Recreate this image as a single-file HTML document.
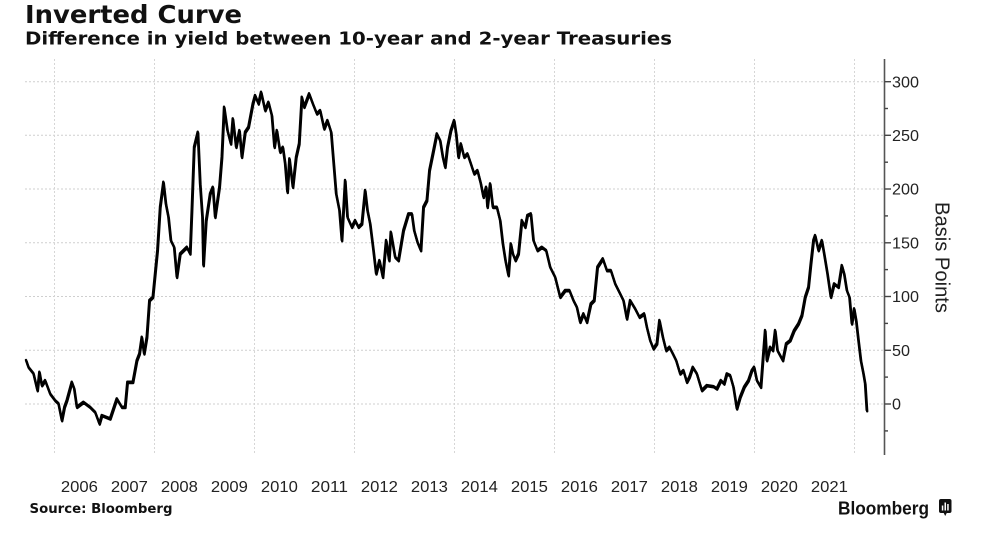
<!DOCTYPE html>
<html>
<head>
<meta charset="utf-8">
<style>
  html,body{margin:0;padding:0;background:#fff;}
  svg{display:block;}
  .t{font-family:"DejaVu Sans","Liberation Sans",sans-serif;font-weight:bold;fill:#111;}
  .ax{font-family:"Liberation Sans",sans-serif;fill:#222;font-size:16px;}
</style>
</head>
<body>
<svg width="989" height="545" viewBox="0 0 989 545" xmlns="http://www.w3.org/2000/svg">
  <rect width="989" height="545" fill="#fff"/>
  <!-- Titles -->
  <text class="t" x="25" y="23" font-size="25" textLength="217" lengthAdjust="spacingAndGlyphs">Inverted Curve</text>
  <text class="t" x="25" y="44.5" font-size="18" textLength="647" lengthAdjust="spacingAndGlyphs">Difference in yield between 10-year and 2-year Treasuries</text>

  <!-- Horizontal gridlines -->
  <g stroke="#cfcfcf" stroke-width="1" stroke-dasharray="2,2">
    <line x1="25" y1="81.7" x2="884" y2="81.7"/>
    <line x1="25" y1="135.3" x2="884" y2="135.3"/>
    <line x1="25" y1="189" x2="884" y2="189"/>
    <line x1="25" y1="242.8" x2="884" y2="242.8"/>
    <line x1="25" y1="296.5" x2="884" y2="296.5"/>
    <line x1="25" y1="350.3" x2="884" y2="350.3"/>
    <line x1="25" y1="404" x2="884" y2="404"/>
  </g>
  <!-- Vertical gridlines -->
  <g stroke="#d6d6d6" stroke-width="1" stroke-dasharray="2,2">
    <line x1="54.5" y1="59" x2="54.5" y2="455"/>
    <line x1="154.5" y1="59" x2="154.5" y2="455"/>
    <line x1="254.5" y1="59" x2="254.5" y2="455"/>
    <line x1="354.5" y1="59" x2="354.5" y2="455"/>
    <line x1="454.5" y1="59" x2="454.5" y2="455"/>
    <line x1="554.5" y1="59" x2="554.5" y2="455"/>
    <line x1="654.5" y1="59" x2="654.5" y2="455"/>
    <line x1="754.5" y1="59" x2="754.5" y2="455"/>
    <line x1="854.5" y1="59" x2="854.5" y2="455"/>
  </g>

  <!-- Right axis -->
  <line x1="884.5" y1="59" x2="884.5" y2="455" stroke="#555" stroke-width="1.6"/>
  <g stroke="#444" stroke-width="1.4">
    <line x1="884.5" y1="81.7" x2="891" y2="81.7"/>
    <line x1="884.5" y1="135.3" x2="891" y2="135.3"/>
    <line x1="884.5" y1="189" x2="891" y2="189"/>
    <line x1="884.5" y1="242.8" x2="891" y2="242.8"/>
    <line x1="884.5" y1="296.5" x2="891" y2="296.5"/>
    <line x1="884.5" y1="350.3" x2="891" y2="350.3"/>
    <line x1="884.5" y1="404" x2="891" y2="404"/>
    <line x1="884.5" y1="108.5" x2="888" y2="108.5"/>
    <line x1="884.5" y1="162.2" x2="888" y2="162.2"/>
    <line x1="884.5" y1="215.9" x2="888" y2="215.9"/>
    <line x1="884.5" y1="269.6" x2="888" y2="269.6"/>
    <line x1="884.5" y1="323.4" x2="888" y2="323.4"/>
    <line x1="884.5" y1="377.1" x2="888" y2="377.1"/>
    <line x1="884.5" y1="430.9" x2="888" y2="430.9"/>
  </g>
  <g class="ax">
    <text x="892" y="87.4" textLength="27" lengthAdjust="spacingAndGlyphs">300</text>
    <text x="892" y="141" textLength="27" lengthAdjust="spacingAndGlyphs">250</text>
    <text x="892" y="194.7" textLength="27" lengthAdjust="spacingAndGlyphs">200</text>
    <text x="892" y="248.5" textLength="27" lengthAdjust="spacingAndGlyphs">150</text>
    <text x="892" y="302.2" textLength="27" lengthAdjust="spacingAndGlyphs">100</text>
    <text x="892" y="356" textLength="18" lengthAdjust="spacingAndGlyphs">50</text>
    <text x="892" y="409.7" textLength="9" lengthAdjust="spacingAndGlyphs">0</text>
  </g>
  <text transform="translate(935.5,257.5) rotate(90)" text-anchor="middle" font-family="Liberation Sans, sans-serif" font-size="20" fill="#222" textLength="111" lengthAdjust="spacingAndGlyphs">Basis Points</text>

  <!-- Year labels -->
  <g class="ax" text-anchor="middle">
    <text x="79.4" y="492" textLength="37" lengthAdjust="spacingAndGlyphs">2006</text>
    <text x="129.4" y="492" textLength="37" lengthAdjust="spacingAndGlyphs">2007</text>
    <text x="179.4" y="492" textLength="37" lengthAdjust="spacingAndGlyphs">2008</text>
    <text x="229.4" y="492" textLength="37" lengthAdjust="spacingAndGlyphs">2009</text>
    <text x="279.4" y="492" textLength="37" lengthAdjust="spacingAndGlyphs">2010</text>
    <text x="329.4" y="492" textLength="37" lengthAdjust="spacingAndGlyphs">2011</text>
    <text x="379.4" y="492" textLength="37" lengthAdjust="spacingAndGlyphs">2012</text>
    <text x="429.4" y="492" textLength="37" lengthAdjust="spacingAndGlyphs">2013</text>
    <text x="479.4" y="492" textLength="37" lengthAdjust="spacingAndGlyphs">2014</text>
    <text x="529.4" y="492" textLength="37" lengthAdjust="spacingAndGlyphs">2015</text>
    <text x="579.4" y="492" textLength="37" lengthAdjust="spacingAndGlyphs">2016</text>
    <text x="629.4" y="492" textLength="37" lengthAdjust="spacingAndGlyphs">2017</text>
    <text x="679.4" y="492" textLength="37" lengthAdjust="spacingAndGlyphs">2018</text>
    <text x="729.4" y="492" textLength="37" lengthAdjust="spacingAndGlyphs">2019</text>
    <text x="779.4" y="492" textLength="37" lengthAdjust="spacingAndGlyphs">2020</text>
    <text x="829.4" y="492" textLength="37" lengthAdjust="spacingAndGlyphs">2021</text>
  </g>

  <!-- Data series -->
  <polyline id="s" fill="none" stroke="#000" stroke-width="2.4" stroke-linejoin="round" stroke-linecap="round" points="
26,360 28.3,366.7 33.3,373 37.3,390 39.3,371.7 41.7,385 45,380 50,393.3 55,400 58.3,403 61.7,420 64.3,406.7 66.7,400 71.7,381.7 74,388 76.7,406.7 83.3,401.7 90,406.7 95,411.7 99.3,423.3 101.7,415 110,418.3 116.7,398.3 121.7,406.7 125,406.7 127.3,381.7 132.7,381.7 136.7,360 139.3,353.3 141.7,336.7 144,353.3 146.7,336.7 149.3,300 152.7,296.7 155,273.3 157.3,250 160,206.7 163.3,181.7 165.7,203.3 168.3,216.7 170.7,240 174,246.7 176.7,276.7 180,253.3 186.7,246.7 190,253.3 191.7,210 194,146.7 197.7,131.7 200,183.3 202.3,216.7 203.3,265 206,220 210,193.3 212.7,186.7 215,216.7 219.3,186.7 221.7,156.7 224,106.7 227.3,130 230.7,143.3 232.7,118.3 236,146.7 239.3,130
241.7,156.7 245,131.7 248.3,126.7 252.7,103.3 255,95 258.3,103.3 261,91.7 265,110 268.3,101.7 271.7,115 274.3,146.7 276.7,130 280,151.7 282.7,146.7 285,163.3 287.3,191.7 289.3,158.3 292.7,186.7 296,156.7 299,143.3 301.7,96.7 304,106.7 309,93.3 312.7,103.3 316.7,113.3 320,110 324,128.3 327.3,120 331,131.7 333.3,160 336,193.3 339.3,210 341.7,240 345,180 347.3,216.7 351.7,226.7 355,220 358.3,226.7 361.7,223.3 365,190 367.3,210 370,223.3 373.3,250 376,273.3 379.3,260 382.7,276.7 386,240 389,260 390.7,231.7 395,256.7 398.3,260 403.3,230 408.3,213.3 411.7,213.3 414,230 417.3,241.7 420.7,250 423.3,206.7 426.7,200 429.3,170 432.7,153.3 436.7,133.3 440,140 442.7,156.7 445,166.7 447.3,146.7
450.7,130 454,120 456,133.3 458.3,156.7 460.7,143.3 464,156.7 467.3,153.3 470.7,163.3 474,173.3 477.3,170 480.7,183.3 483.3,196.7 486,186.7 487.3,206.7 490,183.3 492.7,206.7 496.7,206.7 500,220 502.7,243.3 505.3,260 508.3,275 510.7,243.3 512.7,253.3 515.3,260 518.3,253.3 521.7,220 525,226.7 527.3,215 530.7,213.3 533.3,240 537.3,250 541.7,246.7 546,250 550,266.7 555,276.7 560,296.7 565,290 569.3,290 573.3,300 576.7,306.7 580,321.7 583.3,313.3 586.7,321.7 590.7,303.3 594,300 597.3,266.7 602.7,258.3 606.7,270 610.7,270 615,283.3 620,293.3 623.3,300 626.7,318.3 630,300 635,308.3 639.3,316.7 644,313.3 646.7,326.7 650,340 653.3,348.3 656.7,343.3 659.3,320
662.7,336.7 666,350 669.3,346.7 672.7,353.3 676,360 680,373.3 683.3,370 686.7,381.7 689.3,376.7 692.7,366.7 696.7,373.3 701.7,390 706.7,385 713.3,386 716.7,388.3 720.7,380 724,383.3 726.7,373.3 730,375 733.3,386.7 736.7,408.3 740,396.7 744,386.7 748.3,380 751.7,370 754,366.7 756.7,380 760.7,386.7 762.7,360 765,330 766.7,360 770,346.7 772.7,350 775,330 777.3,350 782.7,360 786,343.3 790,340 794,330 798.3,323.3 801.7,315 805,296.7 808.3,286.7 810.7,263.3 813.3,240 815,235 818.3,250 821.7,240 824,253.3 827.3,273.3 830.7,296.7 834,283.3 838.3,286.7 841.7,265 844,273.3 846.7,290 849.3,296.7 851.7,323.3 854,308.3 856,320 858.3,340 860.7,360 863.3,373.3 865,383.3 866.7,410"/>
  <use href="#s" transform="translate(0.5,1.3)"/>

  <!-- Footer -->
  <text class="t" x="29.5" y="513" font-size="13.5" textLength="143" lengthAdjust="spacingAndGlyphs">Source: Bloomberg</text>
  <text x="838" y="514.5" font-family="Liberation Sans, sans-serif" font-weight="bold" font-size="18.5" fill="#111" textLength="91" lengthAdjust="spacingAndGlyphs">Bloomberg</text>
  <g>
    <rect x="939" y="499" width="12.5" height="14" rx="2" fill="#111"/>
    <polygon points="943.5,512.5 947,512.5 945.2,516" fill="#111"/>
    <rect x="941.8" y="505.5" width="1.5" height="5" fill="#fff"/>
    <rect x="944.5" y="502.5" width="1.5" height="8" fill="#fff"/>
    <rect x="947.2" y="504" width="1.5" height="6.5" fill="#fff"/>
  </g>
</svg>
</body>
</html>
